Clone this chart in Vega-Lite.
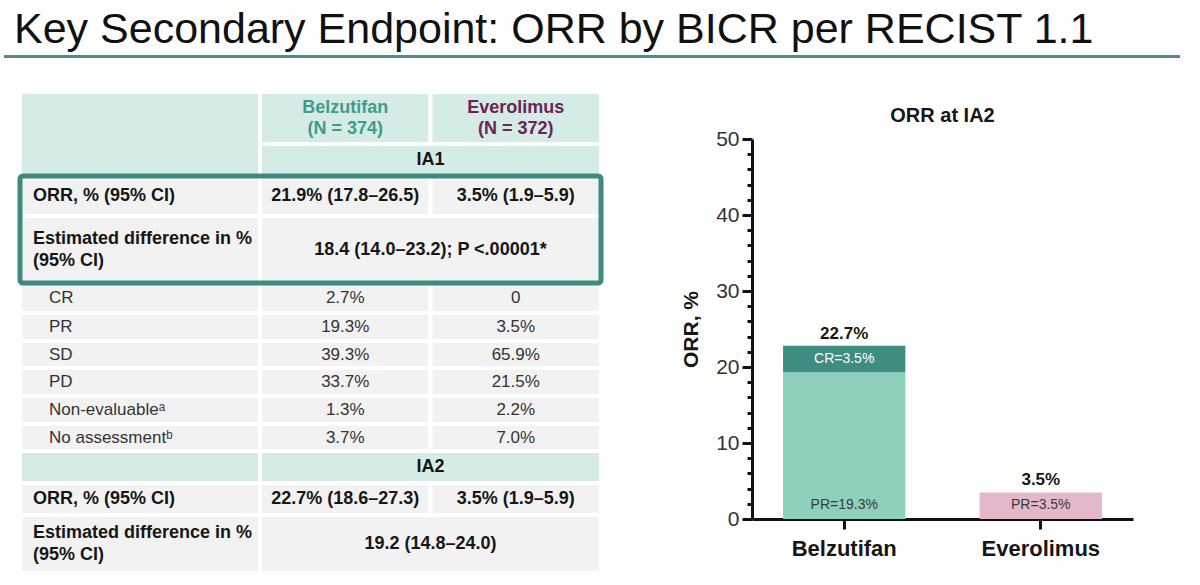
{
  "$schema": "https://vega.github.io/schema/vega-lite/v6.json",
  "background": "#ffffff",
  "padding": {"left": 4, "top": 9, "right": 0, "bottom": 0},
  "config": {"font": "Liberation Sans", "view": {"stroke": null}},
  "datasets": {
    "cells": [
      {"r0": 0, "r1": 2, "c0": 0, "c1": 1, "kind": "header"},
      {"r0": 0, "r1": 1, "c0": 1, "c1": 2, "kind": "header"},
      {"r0": 0, "r1": 1, "c0": 2, "c1": 3, "kind": "header"},
      {"r0": 1, "r1": 2, "c0": 1, "c1": 3, "kind": "header"},
      {"r0": 2, "r1": 3, "c0": 0, "c1": 1, "kind": "body"},
      {"r0": 2, "r1": 3, "c0": 1, "c1": 2, "kind": "body"},
      {"r0": 2, "r1": 3, "c0": 2, "c1": 3, "kind": "body"},
      {"r0": 3, "r1": 4, "c0": 0, "c1": 1, "kind": "body"},
      {"r0": 3, "r1": 4, "c0": 1, "c1": 3, "kind": "body"},
      {"r0": 4, "r1": 5, "c0": 0, "c1": 1, "kind": "body"},
      {"r0": 4, "r1": 5, "c0": 1, "c1": 2, "kind": "body"},
      {"r0": 4, "r1": 5, "c0": 2, "c1": 3, "kind": "body"},
      {"r0": 5, "r1": 6, "c0": 0, "c1": 1, "kind": "body"},
      {"r0": 5, "r1": 6, "c0": 1, "c1": 2, "kind": "body"},
      {"r0": 5, "r1": 6, "c0": 2, "c1": 3, "kind": "body"},
      {"r0": 6, "r1": 7, "c0": 0, "c1": 1, "kind": "body"},
      {"r0": 6, "r1": 7, "c0": 1, "c1": 2, "kind": "body"},
      {"r0": 6, "r1": 7, "c0": 2, "c1": 3, "kind": "body"},
      {"r0": 7, "r1": 8, "c0": 0, "c1": 1, "kind": "body"},
      {"r0": 7, "r1": 8, "c0": 1, "c1": 2, "kind": "body"},
      {"r0": 7, "r1": 8, "c0": 2, "c1": 3, "kind": "body"},
      {"r0": 8, "r1": 9, "c0": 0, "c1": 1, "kind": "body"},
      {"r0": 8, "r1": 9, "c0": 1, "c1": 2, "kind": "body"},
      {"r0": 8, "r1": 9, "c0": 2, "c1": 3, "kind": "body"},
      {"r0": 9, "r1": 10, "c0": 0, "c1": 1, "kind": "body"},
      {"r0": 9, "r1": 10, "c0": 1, "c1": 2, "kind": "body"},
      {"r0": 9, "r1": 10, "c0": 2, "c1": 3, "kind": "body"},
      {"r0": 10, "r1": 11, "c0": 0, "c1": 1, "kind": "header"},
      {"r0": 10, "r1": 11, "c0": 1, "c1": 3, "kind": "header"},
      {"r0": 11, "r1": 12, "c0": 0, "c1": 1, "kind": "body"},
      {"r0": 11, "r1": 12, "c0": 1, "c1": 2, "kind": "body"},
      {"r0": 11, "r1": 12, "c0": 2, "c1": 3, "kind": "body"},
      {"r0": 12, "r1": 13, "c0": 0, "c1": 1, "kind": "body"},
      {"r0": 12, "r1": 13, "c0": 1, "c1": 3, "kind": "body"}
    ],
    "texts": [
      {"r": 0.5, "c": 1.5, "t": "Belzutifan\n(N = 374)", "k": "belz"},
      {"r": 0.5, "c": 2.5, "t": "Everolimus\n(N = 372)", "k": "ever"},
      {"r": 1.5, "c": 2, "t": "IA1", "k": "strong"},
      {"r": 2.5, "c": 0, "t": "ORR, % (95% CI)", "k": "label"},
      {"r": 2.5, "c": 1.5, "t": "21.9% (17.8–26.5)", "k": "strong"},
      {"r": 2.5, "c": 2.5, "t": "3.5% (1.9–5.9)", "k": "strong"},
      {"r": 3.5, "c": 0, "t": "Estimated difference in %\n(95% CI)", "k": "label2"},
      {"r": 3.5, "c": 2, "t": "18.4 (14.0–23.2); P <.00001*", "k": "strong"},
      {"r": 4.5, "c": 0, "t": "CR", "k": "sublabel"},
      {"r": 4.5, "c": 1.5, "t": "2.7%", "k": "value"},
      {"r": 4.5, "c": 2.5, "t": "0", "k": "value"},
      {"r": 5.5, "c": 0, "t": "PR", "k": "sublabel"},
      {"r": 5.5, "c": 1.5, "t": "19.3%", "k": "value"},
      {"r": 5.5, "c": 2.5, "t": "3.5%", "k": "value"},
      {"r": 6.5, "c": 0, "t": "SD", "k": "sublabel"},
      {"r": 6.5, "c": 1.5, "t": "39.3%", "k": "value"},
      {"r": 6.5, "c": 2.5, "t": "65.9%", "k": "value"},
      {"r": 7.5, "c": 0, "t": "PD", "k": "sublabel"},
      {"r": 7.5, "c": 1.5, "t": "33.7%", "k": "value"},
      {"r": 7.5, "c": 2.5, "t": "21.5%", "k": "value"},
      {"r": 8.5, "c": 0, "t": "Non-evaluableᵃ", "k": "sublabel"},
      {"r": 8.5, "c": 1.5, "t": "1.3%", "k": "value"},
      {"r": 8.5, "c": 2.5, "t": "2.2%", "k": "value"},
      {"r": 9.5, "c": 0, "t": "No assessmentᵇ", "k": "sublabel"},
      {"r": 9.5, "c": 1.5, "t": "3.7%", "k": "value"},
      {"r": 9.5, "c": 2.5, "t": "7.0%", "k": "value"},
      {"r": 10.5, "c": 2, "t": "IA2", "k": "strong"},
      {"r": 11.5, "c": 0, "t": "ORR, % (95% CI)", "k": "label"},
      {"r": 11.5, "c": 1.5, "t": "22.7% (18.6–27.3)", "k": "strong"},
      {"r": 11.5, "c": 2.5, "t": "3.5% (1.9–5.9)", "k": "strong"},
      {"r": 12.5, "c": 0, "t": "Estimated difference in %\n(95% CI)", "k": "label2"},
      {"r": 12.5, "c": 2, "t": "19.2 (14.8–24.0)", "k": "strong"}
    ],
    "segments": [
      {"arm": "Belzutifan", "resp": "PR", "group": "Belzutifan PR", "value": 19.3, "label": "PR=19.3%"},
      {"arm": "Belzutifan", "resp": "CR", "group": "Belzutifan CR", "value": 3.5, "label": "CR=3.5%"},
      {"arm": "Everolimus", "resp": "PR", "group": "Everolimus PR", "value": 3.5, "label": "PR=3.5%"}
    ],
    "totals": [
      {"arm": "Belzutifan", "orr": 22.7, "label": "22.7%"},
      {"arm": "Everolimus", "orr": 3.5, "label": "3.5%"}
    ]
  },
  "spacing": 32,
  "vconcat": [
    {
      "width": 1176,
      "height": 3,
      "title": {"text": "Key Secondary Endpoint: ORR by BICR per RECIST 1.1", "anchor": "start", "fontSize": 43, "fontWeight": "normal", "color": "#111111", "font": "Liberation Sans", "offset": 3, "dx": 10},
      "data": {"values": [{}]},
      "mark": {"type": "rect", "color": "#4b8f8b"},
      "encoding": {
        "x": {"datum": 0, "type": "quantitative", "scale": {"domain": [0, 1], "nice": false, "zero": false}, "axis": null},
        "x2": {"datum": 1}
      }
    },
    {
      "hconcat": [
        {
          "width": 597,
          "height": 474,
          "layer": [
            {
              "data": {"name": "cells"},
              "mark": {"type": "rect", "stroke": "#ffffff", "strokeWidth": 4},
              "encoding": {
                "x": {"field": "c0", "type": "quantitative", "scale": {"domain": [0, 1, 2, 3], "range": [16, 256, 426.5, 597], "zero": false, "nice": false}, "axis": null},
                "x2": {"field": "c1"},
                "y": {"field": "r0", "type": "quantitative", "scale": {"domain": [0, 1, 2, 3, 4, 5, 6, 7, 8, 9, 10, 11, 12, 13], "range": [0, 52, 84, 124, 191, 221, 249, 276, 304, 332, 359, 391, 423, 481], "zero": false, "nice": false}, "axis": null},
                "y2": {"field": "r1"},
                "color": {"condition": {"test": "datum.kind === 'header'", "value": "#d4ece5"}, "value": "#f2f2f2"}
              }
            },
            {
              "data": {"values": [{}]},
              "mark": {"type": "rect", "filled": false, "stroke": "#3e8a80", "strokeWidth": 5, "cornerRadius": 3},
              "encoding": {
                "x": {"datum": 0, "type": "quantitative"},
                "x2": {"datum": 3},
                "y": {"datum": 2, "type": "quantitative"},
                "y2": {"datum": 4}
              }
            },
            {
              "data": {"name": "texts"},
              "transform": [{"filter": "datum.k === 'strong'"}],
              "mark": {"type": "text", "fontSize": 18, "fontWeight": "bold", "align": "center", "baseline": "middle", "color": "#161616"},
              "encoding": {
                "x": {"field": "c", "type": "quantitative"},
                "y": {"field": "r", "type": "quantitative"},
                "text": {"field": "t"}
              }
            },
            {
              "data": {"name": "texts"},
              "transform": [{"filter": "datum.k === 'belz' || datum.k === 'ever'"}],
              "mark": {"type": "text", "fontSize": 18, "fontWeight": "bold", "align": "center", "baseline": "middle", "lineBreak": "\n", "lineHeight": 21, "dy": -10.5},
              "encoding": {
                "x": {"field": "c", "type": "quantitative"},
                "y": {"field": "r", "type": "quantitative"},
                "text": {"field": "t"},
                "color": {"condition": {"test": "datum.k === 'belz'", "value": "#3f9c8d"}, "value": "#6b2456"}
              }
            },
            {
              "data": {"name": "texts"},
              "transform": [{"filter": "datum.k === 'value'"}],
              "mark": {"type": "text", "fontSize": 17, "align": "center", "baseline": "middle", "color": "#333333"},
              "encoding": {
                "x": {"field": "c", "type": "quantitative"},
                "y": {"field": "r", "type": "quantitative"},
                "text": {"field": "t"}
              }
            },
            {
              "data": {"name": "texts"},
              "transform": [{"filter": "datum.k === 'label'"}],
              "mark": {"type": "text", "fontSize": 18, "fontWeight": "bold", "align": "left", "baseline": "middle", "dx": 13, "color": "#161616"},
              "encoding": {
                "x": {"field": "c", "type": "quantitative"},
                "y": {"field": "r", "type": "quantitative"},
                "text": {"field": "t"}
              }
            },
            {
              "data": {"name": "texts"},
              "transform": [{"filter": "datum.k === 'label2'"}],
              "mark": {"type": "text", "fontSize": 18, "fontWeight": "bold", "align": "left", "baseline": "middle", "dx": 13, "dy": -11, "lineBreak": "\n", "lineHeight": 22, "color": "#161616"},
              "encoding": {
                "x": {"field": "c", "type": "quantitative"},
                "y": {"field": "r", "type": "quantitative"},
                "text": {"field": "t"}
              }
            },
            {
              "data": {"name": "texts"},
              "transform": [{"filter": "datum.k === 'sublabel'"}],
              "mark": {"type": "text", "fontSize": 17, "align": "left", "baseline": "middle", "dx": 29, "color": "#333333"},
              "encoding": {
                "x": {"field": "c", "type": "quantitative"},
                "y": {"field": "r", "type": "quantitative"},
                "text": {"field": "t"}
              }
            }
          ]
        },
        {
          "width": 381,
          "height": 380,
          "title": {"text": "ORR at IA2", "fontSize": 20, "fontWeight": "bold", "color": "#161616", "offset": 2, "anchor": "middle"},
          "resolve": {"axis": {"y": "independent"}},
          "layer": [
            {
              "data": {"name": "segments"},
              "mark": {"type": "bar"},
              "encoding": {
                "x": {
                  "field": "arm", "type": "nominal", "sort": null,
                  "scale": {"paddingInner": 0.378, "paddingOuter": 0.158},
                  "axis": {"title": null, "labelAngle": 0, "labelFontSize": 22, "labelFontWeight": "bold", "labelColor": "#161616", "labelPadding": 9, "tickSize": 10, "tickWidth": 3, "tickColor": "#111111", "domainWidth": 3, "domainColor": "#111111"}
                },
                "y": {
                  "field": "value", "type": "quantitative", "stack": "zero",
                  "scale": {"domain": [0, 50], "nice": false},
                  "axis": {
                    "orient": "left",
                    "title": "ORR, %", "titleFontSize": 21, "titleFontWeight": "bold", "titleColor": "#161616", "titlePadding": 14,
                    "values": [0, 10, 20, 30, 40, 50],
                    "labelFontSize": 21, "labelColor": "#333333", "labelPadding": 3,
                    "tickSize": 10, "tickWidth": 3, "tickColor": "#111111", "domainWidth": 3, "domainColor": "#111111", "grid": false
                  }
                },
                "color": {"field": "group", "type": "nominal", "scale": {"domain": ["Belzutifan PR", "Belzutifan CR", "Everolimus PR"], "range": ["#8dd0bc", "#3f8c80", "#e2b8ca"]}, "legend": null},
                "order": {"field": "resp", "sort": "descending"}
              }
            },
            {
              "data": {"name": "segments"},
              "transform": [{"filter": "datum.resp === 'PR'"}],
              "mark": {"type": "text", "fontSize": 14, "baseline": "alphabetic", "dy": -10, "color": "#3a3a3a"},
              "encoding": {
                "x": {"field": "arm", "type": "nominal", "sort": null},
                "y": {
                  "datum": 0, "type": "quantitative",
                  "axis": {"orient": "left", "title": null, "labels": false, "domain": false, "grid": false, "values": [2, 4, 6, 8, 12, 14, 16, 18, 22, 24, 26, 28, 32, 34, 36, 38, 42, 44, 46, 48], "tickSize": 5, "tickWidth": 3, "tickColor": "#111111"}
                },
                "text": {"field": "label"}
              }
            },
            {
              "data": {"name": "segments"},
              "mark": {"type": "text", "fontSize": 14, "baseline": "middle", "dy": 13, "color": "#ffffff"},
              "encoding": {
                "x": {"field": "arm", "type": "nominal", "sort": null},
                "y": {"field": "value", "type": "quantitative", "stack": "zero", "axis": null},
                "detail": {"field": "group"},
                "order": {"field": "resp", "sort": "descending"},
                "text": {"field": "label"},
                "opacity": {"condition": {"test": "datum.resp === 'CR'", "value": 1}, "value": 0}
              }
            },
            {
              "data": {"name": "totals"},
              "mark": {"type": "text", "fontSize": 17, "fontWeight": "bold", "baseline": "alphabetic", "dy": -7, "color": "#161616"},
              "encoding": {
                "x": {"field": "arm", "type": "nominal", "sort": null},
                "y": {"field": "orr", "type": "quantitative", "axis": null},
                "text": {"field": "label"}
              }
            }
          ]
        }
      ],
      "spacing": 151,
      "bounds": "flush",
      "center": true
    }
  ]
}
